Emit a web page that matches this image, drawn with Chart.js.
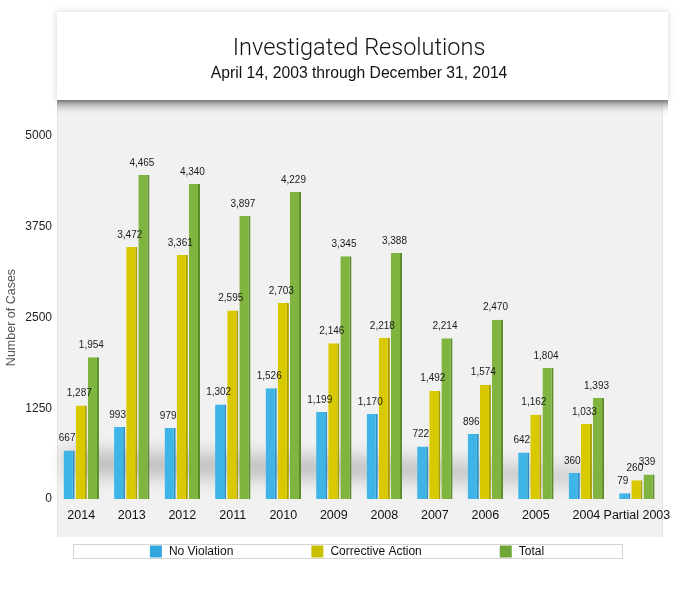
<!DOCTYPE html>
<html>
<head>
<meta charset="utf-8">
<style>
html,body{margin:0;padding:0;background:#fff;}
#wrap{width:680px;height:592px;position:relative;}
</style>
<script src="https://cdn.jsdelivr.net/npm/chart.js@4.4.1/dist/chart.umd.min.js"></script>
</head>
<body>
<div id="wrap"><canvas id="c" width="680" height="592"></canvas></div>
<script>
const categories = ['2014','2013','2012','2011','2010','2009','2008','2007','2006','2005','2004','Partial 2003'];
const noViolation = [667, 993, 979, 1302, 1526, 1199, 1170, 722, 896, 642, 360, 79];
const correctiveAction = [1287, 3472, 3361, 2595, 2703, 2146, 2218, 1492, 1574, 1162, 1033, 260];
const total = [1954, 4465, 4340, 3897, 4229, 3345, 3388, 2214, 2470, 1804, 1393, 339];
const yTicks = [0, 1250, 2500, 3750, 5000];
const seriesNames = ['No Violation', 'Corrective Action', 'Total'];
const titleText = 'Investigated Resolutions';
const subtitleText = 'April 14, 2003 through December 31, 2014';
const yTitleText = 'Number of Cases';

const FONT = "'Liberation Sans', Helvetica, Arial, sans-serif";
const LIGHT = "Roboto, 'Liberation Sans', Arial, sans-serif";
const fillColors = ['#3fb4e6', '#d8c900', '#7fb43e'];
const edgeColors = ['#2a8fc2', '#aa9e00', '#5b8c2a'];
const legendColors = ['#31a6df', '#c9c000', '#6ea637'];

const backgroundPlugin = {
  id: 'panels',
  beforeDraw(chart) {
    const ctx = chart.ctx;
    ctx.save();
    ctx.fillStyle = '#ffffff';
    ctx.fillRect(0, 0, chart.width, chart.height);
    ctx.fillStyle = '#f1f1f1';
    ctx.fillRect(57, 100, 606, 437);
    ctx.strokeStyle = '#e2e2e2';
    ctx.lineWidth = 1;
    ctx.beginPath();
    ctx.moveTo(57.5, 100); ctx.lineTo(57.5, 537);
    ctx.moveTo(662.5, 100); ctx.lineTo(662.5, 537);
    ctx.stroke();
    const g = ctx.createLinearGradient(0, 100, 0, 116);
    g.addColorStop(0, 'rgba(90,90,90,0.75)');
    g.addColorStop(0.35, 'rgba(140,140,140,0.45)');
    g.addColorStop(1, 'rgba(241,241,241,0)');
    ctx.fillStyle = g;
    ctx.fillRect(57, 100, 611, 16);
    ctx.shadowColor = 'rgba(0,0,0,0.18)';
    ctx.shadowBlur = 6;
    ctx.fillStyle = '#ffffff';
    ctx.fillRect(57, 12, 611, 88);
    ctx.restore();
  },
  beforeDatasetsDraw(chart) {
    const ctx = chart.ctx;
    const a = chart.chartArea;
    ctx.save();
    ctx.filter = 'blur(9px)';
    ctx.fillStyle = 'rgba(0,0,0,0.22)';
    ctx.beginPath();
    ctx.moveTo(a.left + 10, a.bottom - 48);
    ctx.lineTo(a.left + 330, a.bottom - 40);
    ctx.lineTo(a.left + 540, a.bottom - 26);
    ctx.lineTo(a.left + 540, a.bottom - 16);
    ctx.lineTo(a.left + 330, a.bottom - 20);
    ctx.lineTo(a.left + 10, a.bottom - 24);
    ctx.closePath();
    ctx.fill();
    ctx.restore();
  }
};

const valueLabelPlugin = {
  id: 'valueLabels',
  afterDatasetsDraw(chart) {
    const ctx = chart.ctx;
    ctx.save();
    ctx.font = '10px ' + FONT;
    ctx.fillStyle = '#1a1a1a';
    ctx.textAlign = 'center';
    ctx.textBaseline = 'bottom';
    chart.data.datasets.forEach((ds, i) => {
      const meta = chart.getDatasetMeta(i);
      meta.data.forEach((bar, j) => {
        const v = ds.data[j];
        ctx.fillText(v.toLocaleString('en-US'), bar.x - 2, bar.y - 7);
      });
    });
    ctx.restore();
  }
};

const legendPlugin = {
  id: 'boxLegend',
  afterDraw(chart) {
    const ctx = chart.ctx;
    ctx.save();
    ctx.strokeStyle = '#a8a8a8';
    ctx.lineWidth = 1;
    ctx.setLineDash([1, 1]);
    ctx.strokeRect(73.5, 544.5, 549, 14);
    ctx.setLineDash([]);
    ctx.font = '12px ' + FONT;
    ctx.textBaseline = 'middle';
    ctx.textAlign = 'left';
    const box = 12, gap = 7, spacing = 78;
    const items = chart.data.datasets.map((ds, i) => ({
      text: ds.label, color: legendColors[i],
      w: box + gap + ctx.measureText(ds.label).width
    }));
    const totalW = items.reduce((s, it) => s + it.w, 0) + spacing * (items.length - 1);
    let x = 347 - totalW / 2;
    items.forEach(it => {
      ctx.fillStyle = it.color;
      ctx.fillRect(x, 545.5, box, box);
      ctx.fillStyle = '#111';
      ctx.fillText(it.text, x + box + gap, 552);
      x += it.w + spacing;
    });
    ctx.restore();
  }
};

const seriesData = [noViolation, correctiveAction, total];

new Chart(document.getElementById('c'), {
  type: 'bar',
  data: {
    labels: categories,
    datasets: seriesData.map((d, i) => ({
      label: seriesNames[i],
      data: d,
      backgroundColor: fillColors[i],
      borderColor: edgeColors[i],
      borderWidth: { top: 0, left: 0, right: 2, bottom: 0 },
      borderSkipped: false,
      categoryPercentage: 0.72,
      barPercentage: 0.92
    }))
  },
  options: {
    responsive: false,
    animation: false,
    devicePixelRatio: 1,
    layout: { padding: { top: 0, left: 0, right: 15, bottom: 60 } },
    plugins: {
      legend: { display: false },
      tooltip: { enabled: false },
      title: {
        display: true,
        text: titleText,
        fullSize: false,
        color: '#111',
        font: { family: LIGHT, size: 23.5, weight: 300 },
        padding: { top: 35, bottom: 1 }
      },
      subtitle: {
        display: true,
        text: subtitleText,
        fullSize: false,
        color: '#111',
        font: { family: FONT, size: 15.7, weight: 'normal' },
        padding: { top: 0, bottom: 53 }
      }
    },
    scales: {
      x: {
        grid: { display: false, drawTicks: false },
        border: { display: false },
        ticks: { color: '#111', font: { family: FONT, size: 12.5 }, padding: 9, maxRotation: 0, autoSkip: false }
      },
      y: {
        min: 0,
        max: 5000,
        afterBuildTicks(scale) { scale.ticks = yTicks.map(v => ({ value: v })); },
        afterFit(scale) { scale.width = 56; },
        grid: { display: false, drawTicks: false },
        border: { display: false },
        ticks: { color: '#222', font: { family: FONT, size: 12 }, padding: 4, callback: v => String(v) },
        title: { display: true, text: yTitleText, color: '#555', font: { family: FONT, size: 12.5 }, padding: { top: 4, bottom: 6 } }
      }
    }
  },
  plugins: [backgroundPlugin, valueLabelPlugin, legendPlugin]
});
</script>
</body>
</html>
